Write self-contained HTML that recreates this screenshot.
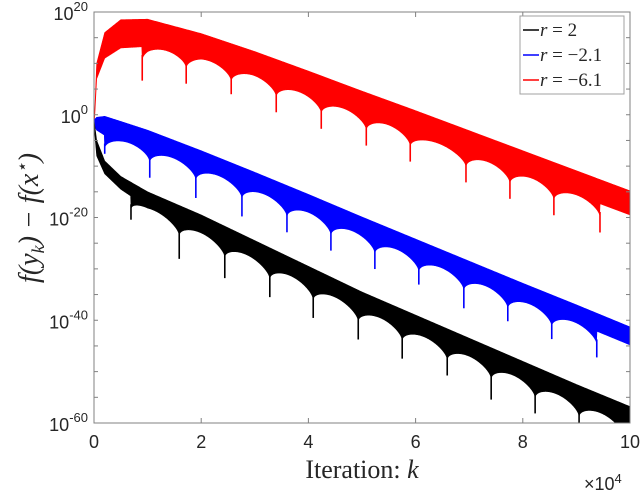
<!DOCTYPE html>
<html><head><meta charset="utf-8"><style>
body{margin:0;background:#fff;}
svg{display:block;}
.tk{font-family:"Liberation Sans",sans-serif;font-size:18px;fill:#262626;}
.sup{font-size:13px;}
.ser{font-family:"Liberation Serif",serif;fill:#262626;}
</style></head><body>
<svg id="chart" width="640" height="495" viewBox="0 0 640 495" xmlns="http://www.w3.org/2000/svg">
<defs><clipPath id="pc"><rect x="94" y="12" width="536" height="411"/></clipPath></defs>
<rect x="94" y="12" width="536" height="411" fill="#fff"/>
<g id="series" clip-path="url(#pc)"></g>
<g id="axes"></g>
<text class="ser" x="362" y="478" font-size="26" text-anchor="middle">Iteration: <tspan font-style="italic">k</tspan></text>
<text class="tk" x="584" y="490" font-size="16">×10<tspan class="sup" dy="-7">4</tspan></text>
<text class="ser" transform="translate(38,218) rotate(-90)" font-size="28" font-style="italic" text-anchor="middle">f(y<tspan font-size="18" dy="6">k</tspan><tspan dy="-6">) − f(x</tspan><tspan font-size="18" dy="-10">⋆</tspan><tspan dy="10">)</tspan></text>
<g>
<rect x="520" y="16" width="104" height="78" fill="#fff" stroke="#a0a0a0" stroke-width="1"/>
<g><line x1="523" y1="30" x2="539" y2="30" stroke="#000" stroke-width="1.5"/><text class="ser" x="540" y="36" font-size="19"><tspan font-style="italic">r</tspan> = 2</text></g>
<g><line x1="523" y1="55" x2="539" y2="55" stroke="#00f" stroke-width="1.5"/><text class="ser" x="540" y="61" font-size="19"><tspan font-style="italic">r</tspan> = −2.1</text></g>
<g><line x1="523" y1="80" x2="539" y2="80" stroke="#f00" stroke-width="1.5"/><text class="ser" x="540" y="86" font-size="19"><tspan font-style="italic">r</tspan> = −6.1</text></g>
</g>
</svg>
<script>
// data (iteration in units of 1e4, values are log10)
const kGrid=[0,0.05,0.2,0.5,1,2,3,4,5,6,7,8,9,10];
const blackTop=[-1,-5,-9,-12,-15,-19.5,-24.5,-29.5,-34.5,-39,-43.5,-48,-52.5,-56.8];
const blackLow=[-2,-8,-11.5,-14.5,-18,-23,-28,-33,-38,-42.5,-47,-51.5,-56,-60.5];
const blueTop=[-1,-0.5,-0.3,-1.3,-3,-7,-11.2,-15.5,-19.9,-24.2,-28.5,-32.8,-37,-41.3];
const blueLow=[-2,-3,-4,-5,-6.5,-10.5,-14.7,-19,-23.4,-27.7,-32,-36.3,-40.5,-44.8];
const redTop=[-3,10,16,18.5,18.6,15.8,12.3,8.5,4.6,0.8,-3.1,-7,-10.9,-14.8];
const redLow=[-3,7,11,13,13.3,11,7.6,3.8,-0.1,-3.9,-7.8,-11.7,-15.6,-19.5];
const blackDips=[0.69,1.59,2.44,3.28,4.09,4.93,5.75,6.59,7.41,8.23,9.05,9.87];
const blueDips=[0.2,1.04,1.9,2.76,3.6,4.42,5.24,6.06,6.9,7.72,8.54,9.38];
const redDips=[0.9,1.72,2.56,3.4,4.24,5.08,5.9,6.94,7.76,8.58,9.44];
const blackDepth=[2,4.5,4,3.5,3.5,3.5,3.5,3,4,3,3,3];
const blueDepth=[1,3,3.5,3.5,3,3,3,2.5,3.5,2.5,2.5,2.5];
const redDepth=[4,3,2.5,3,3,3,3,3,3,3,3];
const xTicks=[0,2,4,6,8,10];
const yTicks=[20,0,-20,-40,-60];

const X0=94,X1=630,Y0=12,Y1=423,VMAX=20,VMIN=-60;
const xs=k=>X0+(k/10)*(X1-X0);
const ys=v=>Y0+(VMAX-v)/(VMAX-VMIN)*(Y1-Y0);
function interp(arr,k){for(let i=0;i<kGrid.length-1;i++){if(k<=kGrid[i+1]){const t=(k-kGrid[i])/(kGrid[i+1]-kGrid[i]);return arr[i]+t*(arr[i+1]-arr[i]);}}return arr[arr.length-1];}
const NS="http://www.w3.org/2000/svg";
const ARC=2.6;
function band(top,low,dips,depths,color,name){
  const up=[],lower=[];const N=1200;
  for(let i=0;i<=N;i++){
    const k=10*i/N;
    up.push(xs(k).toFixed(2)+","+ys(interp(top,k)).toFixed(2));
  }
  for(let i=N;i>=0;i--){
    const k=10*i/N;
    let v=interp(low,k);
    let prev=-1,next=99;
    for(const d of dips){if(d<=k)prev=d;else{next=d;break;}}
    if(prev>=0&&next<99){const t=(k-prev)/(next-prev);v-=ARC*(1-Math.pow(Math.sin(Math.PI*t),0.5));}
    lower.push(xs(k).toFixed(2)+","+ys(v).toFixed(2));
  }
  const poly=document.createElementNS(NS,"polygon");
  poly.setAttribute("points",up.concat(lower).join(" "));
  poly.setAttribute("fill",color);
  poly.setAttribute("stroke",color);
  poly.setAttribute("stroke-width","0.6");
  
  
  document.getElementById("series").appendChild(poly);
  dips.forEach((d,j)=>{
    const base=interp(low,d)-ARC;
    const ln=document.createElementNS(NS,"line");
    ln.setAttribute("x1",xs(d));ln.setAttribute("x2",xs(d));
    ln.setAttribute("y1",ys(base+1));ln.setAttribute("y2",ys(base-depths[j]));
    ln.setAttribute("stroke",color);ln.setAttribute("stroke-width","1.6");
    
    
    document.getElementById("series").appendChild(ln);
  });
}
band(redTop,redLow,redDips,redDepth,"#f00","series-r-6.1");
band(blueTop,blueLow,blueDips,blueDepth,"#00f","series-r-2.1");
band(blackTop,blackLow,blackDips,blackDepth,"#000","series-r2");

const ax=document.getElementById("axes");
function el(tag,attrs){const e=document.createElementNS(NS,tag);for(const a in attrs)e.setAttribute(a,attrs[a]);ax.appendChild(e);return e;}
const box=el("rect",{x:X0,y:Y0,width:X1-X0,height:Y1-Y0,fill:"none",stroke:"#808080","stroke-width":1});


xTicks.forEach(t=>{
  el("line",{x1:xs(t),x2:xs(t),y1:Y1,y2:Y1-5,stroke:"#808080"});
  el("line",{x1:xs(t),x2:xs(t),y1:Y0,y2:Y0+5,stroke:"#808080"});
  const tx=el("text",{x:xs(t),y:Y1+25,"text-anchor":"middle",class:"tk"});
  tx.textContent=t;
  
  
});
for(let v=VMIN;v<=VMAX;v+=5){
  el("line",{x1:X0,x2:X0+4,y1:ys(v),y2:ys(v),stroke:"#808080"});
  el("line",{x1:X1,x2:X1-4,y1:ys(v),y2:ys(v),stroke:"#808080"});
}
yTicks.forEach(v=>{
  const tx=el("text",{x:X0-6,y:ys(v)+8,"text-anchor":"end",class:"tk"});
  tx.innerHTML='10<tspan class="sup" dy="-9">'+v+'</tspan>';
  
  
});
</script>
</body></html>
